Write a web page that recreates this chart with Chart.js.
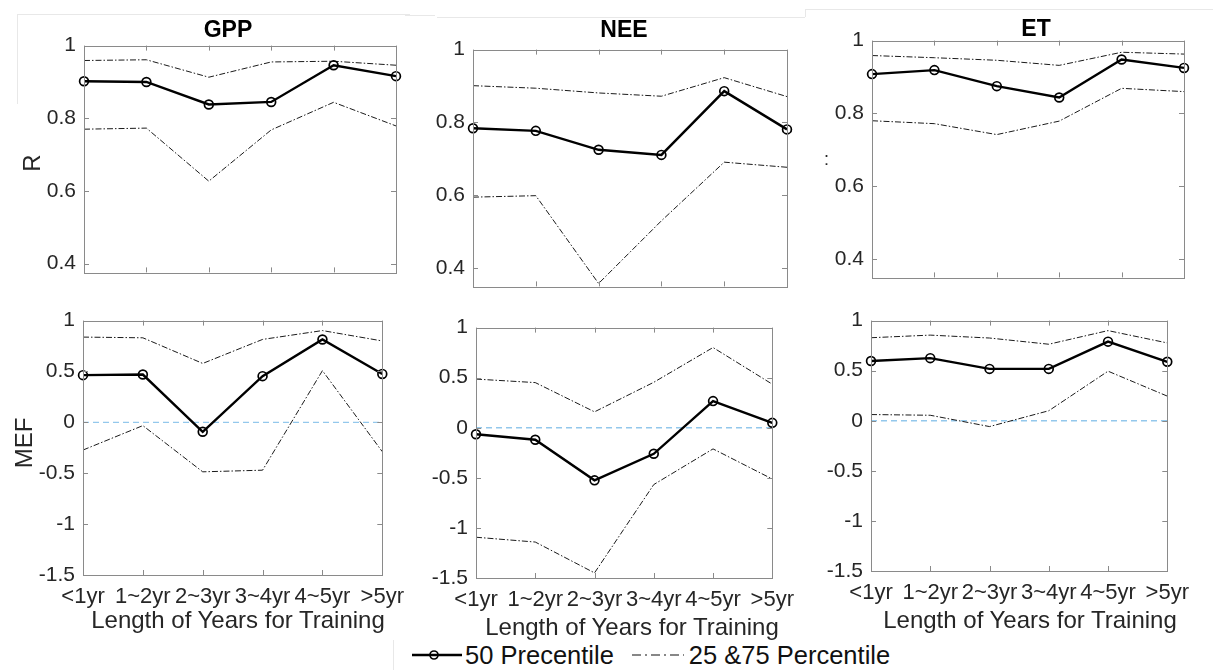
<!DOCTYPE html>
<html>
<head>
<meta charset="utf-8">
<script src="https://cdn.jsdelivr.net/npm/chart.js@4.4.1/dist/chart.umd.min.js"></script>
<style>
  html, body { margin:0; padding:0; background:#fff; }
  body { width:1213px; height:670px; position:relative; overflow:hidden;
         font-family:"Liberation Sans", Arial, Helvetica, sans-serif; color:#262626; }
  canvas { position:absolute; }
  .t { position:absolute; white-space:nowrap; line-height:1; }
  .title { font-weight:bold; font-size:23px; color:#000; transform:translateX(-50%); }
  .xl { font-size:24px; transform:translateX(-50%); }
  .yl { font-size:24px; transform:translate(-50%,-50%) rotate(-90deg); }
  .faint { position:absolute; background:#e8e8e8; }
</style>
</head>
<body>
<script>
// ---------------- data ----------------
const categories = ['<1yr', '1~2yr', '2~3yr', '3~4yr', '4~5yr', '>5yr'];

const gppR_p50 = [0.902, 0.900, 0.838, 0.845, 0.946, 0.916];
const gppR_p75 = [0.959, 0.961, 0.913, 0.955, 0.957, 0.946];
const gppR_p25 = [0.770, 0.773, 0.627, 0.768, 0.844, 0.779];

const neeR_p50 = [0.784, 0.777, 0.725, 0.711, 0.886, 0.781];
const neeR_p75 = [0.901, 0.894, 0.881, 0.872, 0.923, 0.871];
const neeR_p25 = [0.595, 0.599, 0.358, 0.530, 0.691, 0.677];

const etR_p50 = [0.908, 0.919, 0.875, 0.844, 0.948, 0.925];
const etR_p75 = [0.959, 0.953, 0.946, 0.932, 0.968, 0.963];
const etR_p25 = [0.780, 0.772, 0.742, 0.779, 0.869, 0.860];

const gppMEF_p50 = [0.464, 0.470, -0.093, 0.454, 0.815, 0.476];
const gppMEF_p75 = [0.838, 0.831, 0.579, 0.815, 0.902, 0.800];
const gppMEF_p25 = [-0.272, -0.032, -0.486, -0.470, 0.508, -0.288];

const neeMEF_p50 = [-0.065, -0.120, -0.525, -0.260, 0.266, 0.049];
const neeMEF_p75 = [0.486, 0.451, 0.159, 0.454, 0.801, 0.435];
const neeMEF_p25 = [-1.093, -1.141, -1.449, -0.567, -0.211, -0.512];

const etMEF_p50 = [0.596, 0.625, 0.518, 0.518, 0.790, 0.589];
const etMEF_p75 = [0.829, 0.855, 0.826, 0.764, 0.900, 0.777];
const etMEF_p25 = [0.062, 0.055, -0.058, 0.100, 0.495, 0.246];

const zeroRef = [0, 0, 0, 0, 0, 0];

const rTicks = [0.4, 0.6, 0.8, 1];
const mefTicks = [-1.5, -1, -0.5, 0, 0.5, 1];

const panelTitles = ['GPP', 'NEE', 'ET'];
const xTitle = 'Length of Years for Training';
const legendLabels = ['50 Precentile', '25 &75 Percentile'];

// ---------------- drawing ----------------
const FONT = '"Liberation Sans", Arial, Helvetica, sans-serif';
const YAXIS_W = 80, PAD = 14;

const framePlugin = {
  id: 'frame',
  afterDatasetsDraw(chart) {
    const {ctx, chartArea: a, scales} = chart;
    ctx.save();
    ctx.strokeStyle = '#8a8a8a';
    ctx.lineWidth = 1;
    ctx.strokeRect(Math.round(a.left) + 0.5, Math.round(a.top) + 0.5,
                   Math.round(a.right - a.left), Math.round(a.bottom - a.top));
    const tl = 5;
    ctx.beginPath();
    scales.x.ticks.forEach((t, i) => {
      const x = Math.round(scales.x.getPixelForTick(i)) + 0.5;
      ctx.moveTo(x, a.bottom); ctx.lineTo(x, a.bottom - tl);
      ctx.moveTo(x, a.top); ctx.lineTo(x, a.top + tl);
    });
    scales.y.ticks.forEach((t, i) => {
      const y = Math.round(scales.y.getPixelForTick(i)) + 0.5;
      ctx.moveTo(a.left, y); ctx.lineTo(a.left + tl, y);
      ctx.moveTo(a.right, y); ctx.lineTo(a.right - tl, y);
    });
    ctx.stroke();
    ctx.restore();
  }
};

function makePanel(box, yMin, yMax, yTicks, p50, p25, p75, showX, withZero) {
  const xh = showX ? 42 : PAD;
  const c = document.createElement('canvas');
  const w = (box.R - box.L) + YAXIS_W + PAD;
  const h = (box.B - box.T) + PAD + xh;
  c.width = w; c.height = h;
  c.style.left = (box.L - YAXIS_W) + 'px';
  c.style.top = (box.T - PAD) + 'px';
  c.style.width = w + 'px'; c.style.height = h + 'px';
  document.body.appendChild(c);

  const datasets = [
    { data: p50, borderColor: '#000', borderWidth: 2.4, pointRadius: 4.4,
      pointBorderWidth: 1.7, pointBackgroundColor: 'rgba(0,0,0,0)', pointBorderColor: '#000',
      clip: false, tension: 0 },
    { data: p75, borderColor: '#1a1a1a', borderWidth: 1, borderDash: [6, 2, 1.5, 2],
      pointRadius: 0, clip: false, tension: 0 },
    { data: p25, borderColor: '#1a1a1a', borderWidth: 1, borderDash: [6, 2, 1.5, 2],
      pointRadius: 0, clip: false, tension: 0 }
  ];
  if (withZero) {
    datasets.push({ data: zeroRef, borderColor: '#93c8ec', borderWidth: 1.3,
      borderDash: [6, 4], pointRadius: 0, clip: false });
  }

  new Chart(c, {
    type: 'line',
    data: { labels: categories, datasets },
    plugins: [framePlugin],
    options: {
      responsive: false, animation: false, devicePixelRatio: 1,
      events: [],
      layout: { padding: { top: PAD, right: PAD, bottom: 0, left: 0 } },
      plugins: { legend: { display: false }, tooltip: { enabled: false }, title: { display: false } },
      scales: {
        x: {
          type: 'category', offset: false,
          grid: { display: false, drawTicks: false }, border: { display: false },
          ticks: { display: showX, color: '#262626', font: { family: FONT, size: 22 },
                   padding: 9, autoSkip: false, maxRotation: 0, minRotation: 0 },
          afterFit(s) { s.height = xh; }
        },
        y: {
          min: yMin, max: yMax,
          grid: { display: false, drawTicks: false }, border: { display: false },
          afterBuildTicks(s) { s.ticks = yTicks.map(v => ({ value: v })); },
          ticks: { color: '#262626', font: { family: FONT, size: 21 }, padding: 8,
                   callback: v => String(v) },
          afterFit(s) { s.width = YAXIS_W; }
        }
      }
    }
  });
}

const boxes = [
  { L: 84,  R: 396,  T: 39,  B: 279 },
  { L: 473, R: 787,  T: 43,  B: 293 },
  { L: 872, R: 1184, T: 34,  B: 284 },
  { L: 83,  R: 399,  T: 314, B: 575 },
  { L: 476, R: 789,  T: 321, B: 578 },
  { L: 871, R: 1184, T: 314, B: 571 }
];

makePanel(boxes[0], 0.376, 1, rTicks, gppR_p50, gppR_p25, gppR_p75, false, false);
makePanel(boxes[1], 0.35, 1, rTicks, neeR_p50, neeR_p25, neeR_p75, false, false);
makePanel(boxes[2], 0.35, 1, rTicks, etR_p50, etR_p25, etR_p75, false, false);
makePanel(boxes[3], -1.5, 1, mefTicks, gppMEF_p50, gppMEF_p25, gppMEF_p75, true, true);
makePanel(boxes[4], -1.5, 1, mefTicks, neeMEF_p50, neeMEF_p25, neeMEF_p75, true, true);
makePanel(boxes[5], -1.5, 1, mefTicks, etMEF_p50, etMEF_p25, etMEF_p75, true, true);

// ---------------- text ----------------
function addText(cls, txt, x, y) {
  const d = document.createElement('div');
  d.className = 't ' + cls;
  d.textContent = txt;
  d.style.left = x + 'px'; d.style.top = y + 'px';
  document.body.appendChild(d);
  return d;
}
addText('title', panelTitles[0], 228, 18);
addText('title', panelTitles[1], 624, 18);
addText('title', panelTitles[2], 1036, 17);
addText('yl', 'R', 32, 163);
addText('yl', 'MEF', 24, 443);
const colon = addText('', ':', 824, 150); colon.style.fontSize = '18px';
addText('xl', xTitle, 238, 608);
addText('xl', xTitle, 632, 615);
addText('xl', xTitle, 1030, 608);

// faint composite borders
[[17,14,393,1],[17,14,1,90],[405,15,30,1],[437,17,368,1],[805,9,1,8],[805,9,408,1],[393,640,1,30]].forEach(r => {
  const d = document.createElement('div'); d.className = 'faint';
  d.style.left = r[0]+'px'; d.style.top = r[1]+'px'; d.style.width = r[2]+'px'; d.style.height = r[3]+'px';
  document.body.appendChild(d);
});

// legend
const lg = document.createElement('div');
lg.style.cssText = 'position:absolute;left:410px;top:641px;height:28px;display:flex;align-items:center;font-size:25.5px;color:#111;white-space:nowrap;';
lg.innerHTML =
  '<svg width="54" height="28" style="margin-right:1px"><line x1="2" y1="14" x2="52" y2="14" stroke="#000" stroke-width="2.6"/>' +
  '<circle cx="24" cy="14" r="4" fill="none" stroke="#000" stroke-width="1.7"/></svg>' +
  '<span>' + legendLabels[0] + '</span>' +
  '<svg width="58" height="28" style="margin-left:16px;margin-right:1px"><line x1="2" y1="14" x2="54" y2="14" stroke="#111" stroke-width="1.2" stroke-dasharray="9,4,2,4"/></svg>' +
  '<span>' + legendLabels[1] + '</span>';
document.body.appendChild(lg);
</script>
</body>
</html>
